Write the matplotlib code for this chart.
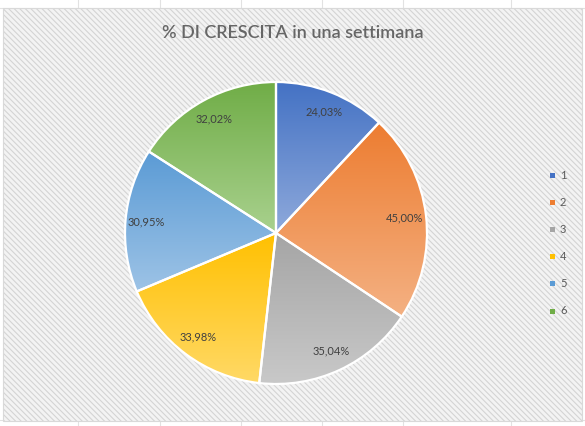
import numpy as np
import matplotlib
matplotlib.use("Agg")
import matplotlib.pyplot as plt
from matplotlib.patches import Rectangle
from matplotlib.colors import LinearSegmentedColormap

# Data
categories = ["1", "2", "3", "4", "5", "6"]
values = [24.03, 45.00, 35.04, 33.98, 30.95, 32.02]
labels = ["24,03%", "45,00%", "35,04%", "33,98%", "30,95%", "32,02%"]
title = "% DI CRESCITA in una settimana"

# gradient: darker at top, lighter at bottom of each slice
top_colors = ["#4472C4", "#ED7D31", "#A5A5A5", "#FFC000", "#5B9BD5", "#70AD47"]
bottom_colors = ["#8EA9DB", "#F4B183", "#C9C9C9", "#FFD966", "#9DC3E6", "#A9D18E"]

plt.rcParams["font.family"] = ["Lato", "DejaVu Sans"]
plt.rcParams["hatch.linewidth"] = 0.8

W, H = 585, 426
fig = plt.figure(figsize=(W / 100, H / 100), dpi=100)
fig.patch.set_facecolor("white")

# spreadsheet gridlines peeking around the chart
for gx in [78, 160, 241, 322, 403, 511]:
    fig.add_artist(plt.Line2D([gx / W, gx / W], [0, 1], color="#E2E2E2", lw=0.8, zorder=-2))
for gy in [8, 420]:
    fig.add_artist(plt.Line2D([0, 1], [1 - gy / H, 1 - gy / H], color="#E2E2E2", lw=0.8, zorder=-2))

# chart area with diagonal hatch
x0, y0, x1, y1 = 3, 8, 582, 421
bg = Rectangle((x0 / W, 1 - y1 / H), (x1 - x0) / W, (y1 - y0) / H,
               transform=fig.transFigure, facecolor="#F3F3F3",
               edgecolor="#D4D4D4", lw=0, hatch="\\\\\\\\\\\\", zorder=0)
fig.add_artist(bg)
bg2 = Rectangle((x0 / W, 1 - y1 / H), (x1 - x0) / W, (y1 - y0) / H,
                transform=fig.transFigure, facecolor="none",
                edgecolor="#D9D9D9", lw=0.8, zorder=0.5)
fig.add_artist(bg2)

fig.text(293 / W, 1 - 33 / H, title, ha="center", va="center",
         fontsize=13, color="#666666", fontweight="semibold")

# pie axes: centre (276, 233), radius 151 px
cx, cy, r = 276, 233, 151
ax = fig.add_axes([(cx - r) / W, (H - cy - r) / H, 2 * r / W, 2 * r / H])
ax.axis("off")
ax.patch.set_visible(False)

wedges, texts, autotexts = ax.pie(
    values, startangle=90, counterclock=False, radius=1,
    colors=["none"] * len(values),
    wedgeprops=dict(edgecolor="white", linewidth=1.6, zorder=3),
    autopct=lambda p: "", pctdistance=0.86, frame=False)

for w, c0, c1 in zip(wedges, top_colors, bottom_colors):
    verts = w.get_patch_transform().transform(w.get_path().vertices)
    xmin, ymin = verts.min(axis=0)
    xmax, ymax = verts.max(axis=0)
    cmap = LinearSegmentedColormap.from_list("g", [c1, c0])
    grad = np.linspace(0, 1, 256).reshape(-1, 1)
    im = ax.imshow(grad, cmap=cmap, origin="lower", aspect="auto",
                   extent=[xmin, xmax, ymin, ymax], zorder=2)
    im.set_clip_path(w)

ax.set_xlim(-1, 1)
ax.set_ylim(-1, 1)

for t, lab in zip(autotexts, labels):
    t.set_text(lab)
    t.set_fontsize(8)
    t.set_color("#404040")
    t.set_zorder(5)

# legend
for i, (cat, c) in enumerate(zip(categories, top_colors)):
    ly = 175 + i * 27.2
    fig.add_artist(Rectangle(((552 - 2.5) / W, 1 - (ly + 2.5) / H), 5 / W, 5 / H,
                             transform=fig.transFigure, facecolor=c,
                             edgecolor="none", zorder=4))
    fig.text(560 / W, 1 - ly / H, cat, ha="left", va="center",
             fontsize=8, color="#595959")

fig.savefig("out.png", dpi=100)
